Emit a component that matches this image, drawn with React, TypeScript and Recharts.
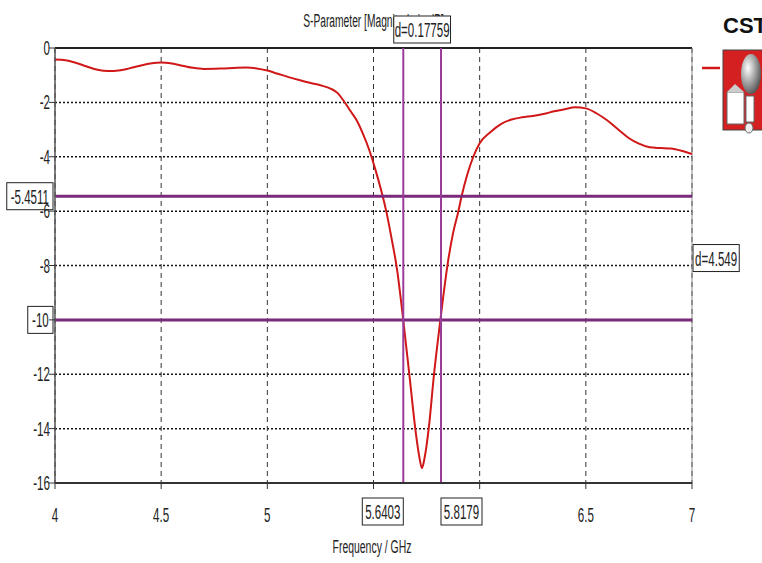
import React from 'react';
import { LineChart, Line, XAxis, YAxis, CartesianGrid, ReferenceLine, ReferenceArea } from 'recharts';

const freq = [4.0, 4.05, 4.1, 4.15, 4.2, 4.25, 4.3, 4.35, 4.4, 4.45, 4.5, 4.55, 4.6, 4.65, 4.7, 4.8, 4.9, 4.95, 5.0, 5.05, 5.1, 5.15, 5.2, 5.25, 5.3, 5.33, 5.36, 5.39, 5.42, 5.45, 5.48, 5.51, 5.54, 5.56, 5.585, 5.61, 5.64, 5.67, 5.7, 5.715, 5.728, 5.74, 5.76, 5.785, 5.815, 5.85, 5.875, 5.9, 5.915, 5.94, 5.97, 6.0, 6.05, 6.1, 6.15, 6.2, 6.25, 6.3, 6.35, 6.4, 6.45, 6.5, 6.55, 6.6, 6.65, 6.7, 6.75, 6.8, 6.85, 6.9, 6.95, 7.0];
const s11 = [-0.42, -0.45, -0.55, -0.68, -0.8, -0.85, -0.83, -0.75, -0.65, -0.57, -0.53, -0.57, -0.65, -0.73, -0.77, -0.75, -0.72, -0.75, -0.83, -0.95, -1.07, -1.18, -1.28, -1.37, -1.5, -1.65, -1.95, -2.3, -2.65, -3.15, -3.75, -4.5, -5.35, -6.0, -7.0, -8.1, -10.0, -12.1, -14.2, -15.0, -15.45, -15.1, -14.0, -12.0, -10.0, -7.9, -6.8, -6.0, -5.45, -4.7, -4.0, -3.5, -3.1, -2.8, -2.63, -2.55, -2.5, -2.43, -2.33, -2.25, -2.18, -2.22, -2.4, -2.66, -2.98, -3.3, -3.52, -3.65, -3.68, -3.7, -3.78, -3.9];

const xTicks = [4, 4.5, 5, 5.5, 6, 6.5, 7];
const xTickLabels = ['4', '4.5', '5', '', '', '6.5', '7'];
const yTicks = [0, -2, -4, -6, -8, -10, -12, -14, -16];
const yTickLabels = ['0', '-2', '-4', '-6', '-8', '', '-12', '-14', '-16'];
const markerX = [5.6403, 5.8179];
const markerY = [-5.4511, -10];
const deltaXLabel = 'd=0.17759';
const deltaYLabel = 'd=4.549';
const title = 'S-Parameter [Magnitude in dB]';
const xTitle = 'Frequency / GHz';

const data = freq.map((f, i) => ({ f, v: s11[i] }));

const FONT = '"Liberation Sans", Arial, sans-serif';
const TXT = '#222';

function NText({ x, y, children, anchor = 'middle', size = 20, sx = 0.57, fill = TXT, weight = 'normal' }: any) {
  return (
    <text transform={`translate(${x},${y}) scale(${sx},1)`} textAnchor={anchor} fontSize={size} fontFamily={FONT} fill={fill} fontWeight={weight}>
      {children}
    </text>
  );
}

const boxW = (t: string) => 5.25 * t.length + 9.5;
const BOX_H = 27;

function Box({ x, y, text }: any) {
  const w = boxW(text);
  return (
    <g>
      <rect x={x} y={y} width={w} height={BOX_H} fill="#fff" stroke="#222" strokeWidth={1} />
      <NText x={x + w / 2} y={y + BOX_H / 2 + 7.5} size={21} sx={0.55}>{text}</NText>
    </g>
  );
}

const XTick = (props: any) => {
  const { x, y, payload } = props;
  const idx = xTicks.indexOf(payload.value);
  const label = idx >= 0 ? xTickLabels[idx] : '';
  if (!label) return <g />;
  return <NText x={x} y={y + 31} size={20} sx={0.58}>{label}</NText>;
};

const YTick = (props: any) => {
  const { x, y, payload } = props;
  const idx = yTicks.indexOf(payload.value);
  const label = idx >= 0 ? yTickLabels[idx] : '';
  if (!label) return <g />;
  return <NText x={x + 3} y={y + 7} anchor="end" size={20} sx={0.58}>{label}</NText>;
};

const HMarkerLabel = (text: string) => (props: any) => {
  const vb = props.viewBox || {};
  const w = boxW(text);
  return <Box x={vb.x - 2 - w} y={vb.y - BOX_H / 2} text={text} />;
};

const VMarkerLabel = (text: string, side: 'left' | 'right') => (props: any) => {
  const vb = props.viewBox || {};
  const w = boxW(text);
  const bottom = vb.y + vb.height;
  const x = side === 'left' ? vb.x - w : vb.x;
  return <Box x={x} y={bottom + 15} text={text} />;
};

const DeltaXLabel = (props: any) => {
  const vb = props.viewBox || {};
  const w = boxW(deltaXLabel);
  return <Box x={vb.x + vb.width / 2 - w / 2} y={vb.y - 5 - BOX_H} text={deltaXLabel} />;
};

const DeltaYLabel = (props: any) => {
  const vb = props.viewBox || {};
  return <Box x={vb.x + vb.width + 1} y={vb.y + vb.height / 2 - BOX_H / 2} text={deltaYLabel} />;
};

export default function App() {
  return (
    <div style={{ position: 'absolute', left: 0, top: 0, width: 762, height: 563, background: '#fff', overflow: 'hidden' }}>
      <svg width={762} height={563} style={{ position: 'absolute', left: 0, top: 0 }}>
        <NText x={373.5} y={27} size={19} sx={0.54}>{title}</NText>
        <NText x={372} y={553} size={19} sx={0.55}>{xTitle}</NText>
        {/* legend swatch */}
        <line x1={702} y1={68} x2={720} y2={68} stroke="#d01818" strokeWidth={2.5} />
        {/* CST logo */}
        <text x={723} y={33} fontSize={22} fontWeight="bold" fontFamily={FONT} fill="#111">CST</text>
        <rect x={723} y={50} width={45} height={80} fill="#d42020" stroke="#444" strokeWidth={1} />
        <defs>
          <radialGradient id="sph" cx="0.35" cy="0.35" r="0.7">
            <stop offset="0" stopColor="#ffffff" />
            <stop offset="1" stopColor="#555" />
          </radialGradient>
        </defs>
        <ellipse cx={751} cy={74} rx={10} ry={20} fill="url(#sph)" />
        <rect x={727} y={92} width={17} height={32} fill="#fff" stroke="#666" />
        <polygon points="727,92 735,84 744,92" fill="#ccc" />
        <rect x={746} y={96} width={8} height={26} fill="#fff" stroke="#666" />
        <ellipse cx={749} cy={128} rx={4} ry={5} fill="#eee" stroke="#666" />
      </svg>
      <div style={{ position: 'absolute', left: 0, top: 0 }}>
        <LineChart width={762} height={563} data={data} margin={{ top: 48, right: 70, bottom: 0, left: 0 }}>
          <CartesianGrid vertical={false} stroke="#111" strokeWidth={1.5} strokeDasharray="2 2" />
          <CartesianGrid horizontal={false} stroke="#333" strokeWidth={1} strokeDasharray="5 4" />
          <XAxis
            dataKey="f"
            type="number"
            domain={[4, 7]}
            ticks={xTicks}
            interval={0}
            height={80}
            tickSize={6}
            tick={XTick}
            tickLine={{ stroke: '#333' }}
            axisLine={{ stroke: '#333', strokeWidth: 2 }}
          />
          <YAxis
            type="number"
            domain={[-16, 0]}
            ticks={yTicks}
            interval={0}
            width={55}
            tickSize={6}
            tick={YTick}
            tickLine={{ stroke: '#333' }}
            axisLine={{ stroke: '#555', strokeWidth: 1.5 }}
          />
          <ReferenceLine y={0} stroke="#222" strokeWidth={2} />
          <ReferenceLine x={7} stroke="#888" strokeWidth={1} />
          <ReferenceArea x1={markerX[0]} x2={markerX[1]} fill="none" fillOpacity={0} stroke="none" label={DeltaXLabel} />
          <ReferenceArea y1={markerY[1]} y2={markerY[0]} fill="none" fillOpacity={0} stroke="none" label={DeltaYLabel} />
          <Line type="monotone" dataKey="v" stroke="#d01818" strokeWidth={2} dot={false} isAnimationActive={false} />
          {markerY.map((v) => (
            <ReferenceLine key={'y' + v} y={v} stroke="#7b2a7b" strokeWidth={3} label={HMarkerLabel(String(v))} />
          ))}
          {markerX.map((v, i) => (
            <ReferenceLine key={'x' + v} x={v} stroke="#9a3c9a" strokeWidth={2} label={VMarkerLabel(String(v), i === 0 ? 'left' : 'right')} />
          ))}
        </LineChart>
      </div>
    </div>
  );
}
